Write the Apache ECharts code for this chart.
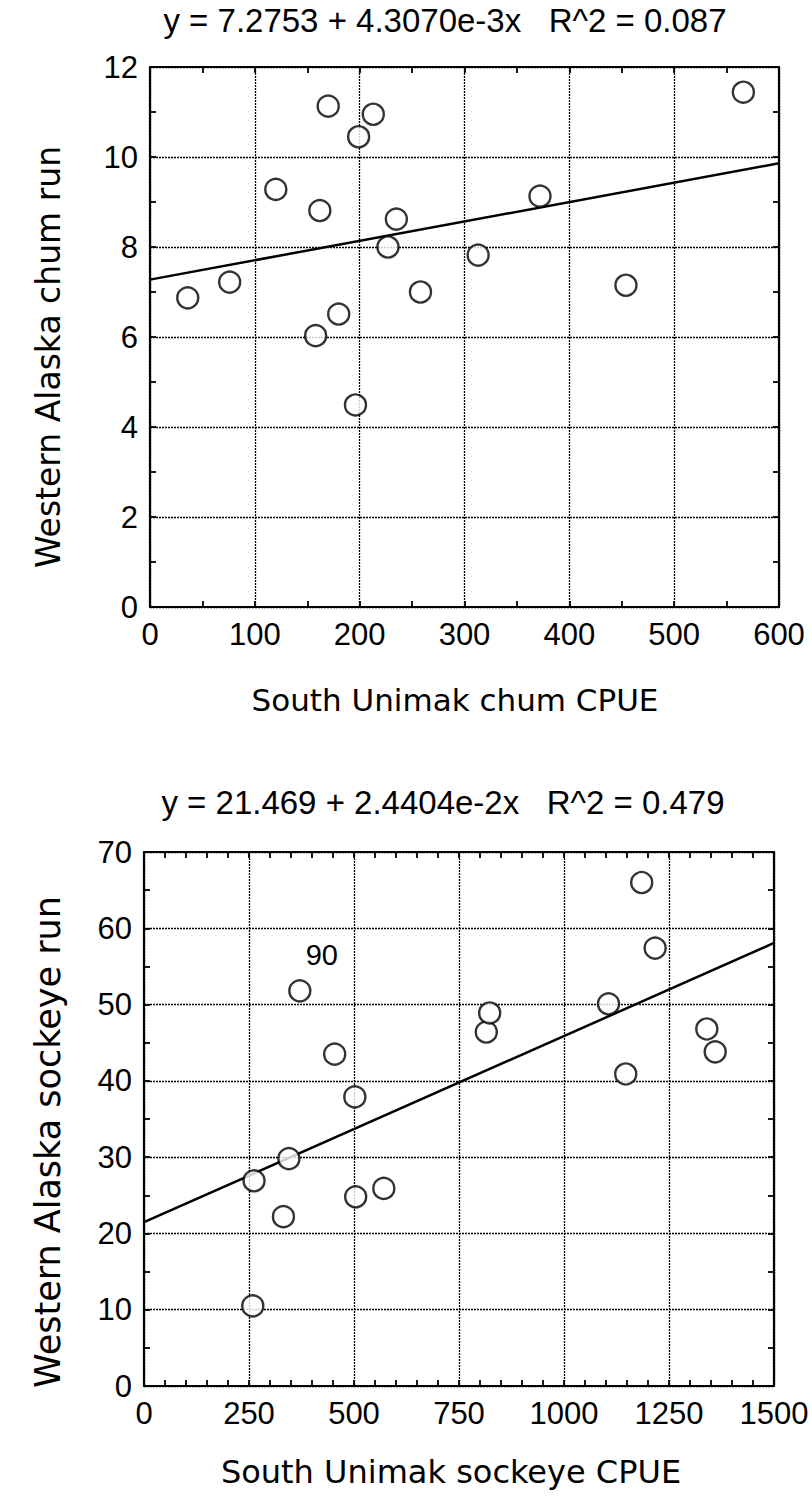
<!DOCTYPE html>
<html>
<head>
<meta charset="utf-8">
<title>South Unimak CPUE vs Western Alaska runs</title>
<script src="https://cdn.jsdelivr.net/npm/echarts@6/dist/echarts.min.js"></script>
<style>
  html, body { margin: 0; padding: 0; background: #fff; }
  #chart { width: 812px; height: 1505px; }
</style>
</head>
<body>
<div id="chart"></div>
<script>
// South Unimak chum CPUE vs Western Alaska chum run
const chumCPUE = [36, 76, 120, 158, 162, 170, 180, 196, 199, 213, 227, 235, 258, 313, 372, 454, 566];
const chumRun  = [6.87, 7.22, 9.28, 6.03, 8.81, 11.13, 6.51, 4.49, 10.45, 10.95, 8.0, 8.62, 7.0, 7.82, 9.13, 7.15, 11.44];
const chumFit  = [7.2753, 4.3070e-3];   // intercept, slope
const chumR2   = '0.087';

// South Unimak sockeye CPUE vs Western Alaska sockeye run
const sockeyeCPUE = [259, 262, 332, 345, 371, 454, 502, 504, 571, 815, 823, 1106, 1147, 1185, 1217, 1340, 1360];
const sockeyeRun  = [10.5, 26.9, 22.2, 29.8, 51.8, 43.5, 37.9, 24.8, 25.9, 46.4, 48.9, 50.1, 40.9, 66.0, 57.4, 46.8, 43.8];
const sockeyeTags = ['', '', '', '', '90', '', '', '', '', '', '', '', '', '', '', '', ''];
const sockeyeFit  = [21.469, 2.4404e-2];
const sockeyeR2   = '0.479';

// axis ranges and tick steps
const chumXRange = [0, 600, 100];
const chumYRange = [0, 12, 2];
const sockeyeXRange = [0, 1500, 250];
const sockeyeYRange = [0, 70, 10];

const chumTitle = 'y = 7.2753 + 4.3070e-3x\u00a0\u00a0\u00a0R^2 = ' + chumR2;
const sockeyeTitle = 'y = 21.469 + 2.4404e-2x\u00a0\u00a0\u00a0R^2 = ' + sockeyeR2;

const tickFont = 'Liberation Sans, Arial, sans-serif';
const nameFont = 'DejaVu Sans, sans-serif';

function pairs(xs, ys) { return xs.map((x, i) => [x, ys[i]]); }
function fitLine(fit, xMax) { return [[0, fit[0]], [xMax, fit[0] + fit[1] * xMax]]; }

function valueAxis(range, gridIndex, position, showLabels, minorSplit) {
  return {
    type: 'value', gridIndex, position,
    min: range[0], max: range[1], interval: range[2],
    axisLine: { show: true, onZero: false, lineStyle: { color: '#000', width: 2.2 } },
    axisTick: { show: true, inside: true, length: 6, lineStyle: { color: '#000', width: 1.8 } },
    minorTick: { show: true, splitNumber: minorSplit, length: 6, lineStyle: { color: '#000', width: 1.8 } },
    axisLabel: {
      show: showLabels, color: '#000', fontFamily: tickFont, fontSize: 31, margin: 12,
      formatter: v => String(v)
    },
    splitLine: {
      show: showLabels,
      lineStyle: { color: '#000', width: 1.3, type: [2, 1] }
    }
  };
}

const circleStyle = { color: '#fff', borderColor: '#000', borderWidth: 2.4 };

const chart = echarts.init(document.getElementById('chart'), null, { renderer: 'svg' });

chart.setOption({
  animation: false,
  backgroundColor: '#fff',
  grid: [
    { left: 150, right: 33, top: 67, height: 540 },
    { left: 144, right: 38, top: 852, height: 534 }
  ],
  xAxis: [
    valueAxis(chumXRange, 0, 'bottom', true, 2),
    valueAxis(chumXRange, 0, 'top', false, 2),
    valueAxis(sockeyeXRange, 1, 'bottom', true, 5),
    valueAxis(sockeyeXRange, 1, 'top', false, 5)
  ],
  yAxis: [
    valueAxis(chumYRange, 0, 'left', true, 2),
    valueAxis(chumYRange, 0, 'right', false, 2),
    valueAxis(sockeyeYRange, 1, 'left', true, 2),
    valueAxis(sockeyeYRange, 1, 'right', false, 2)
  ],
  graphic: [
    { type: 'text', x: 445, y: 20, style: { text: chumTitle, font: '33px ' + tickFont, fill: '#000', align: 'center', verticalAlign: 'middle' } },
    { type: 'text', x: 443, y: 802, style: { text: sockeyeTitle, font: '33px ' + tickFont, fill: '#000', align: 'center', verticalAlign: 'middle' } },
    { type: 'text', x: 455, y: 700, style: { text: 'South Unimak chum CPUE', font: '31px ' + nameFont, fill: '#000', align: 'center', verticalAlign: 'middle' } },
    { type: 'text', x: 451, y: 1472, style: { text: 'South Unimak sockeye CPUE', font: '32px ' + nameFont, fill: '#000', align: 'center', verticalAlign: 'middle' } },
    { type: 'text', x: 48, y: 357, rotation: Math.PI / 2, style: { text: 'Western Alaska chum run', font: '33px ' + nameFont, fill: '#000', align: 'center', verticalAlign: 'middle' } },
    { type: 'text', x: 48, y: 1142, rotation: Math.PI / 2, style: { text: 'Western Alaska sockeye run', font: '35px ' + nameFont, fill: '#000', align: 'center', verticalAlign: 'middle' } }
  ],
  series: [
    {
      type: 'line', xAxisIndex: 0, yAxisIndex: 0, silent: true, showSymbol: false, z: 2,
      data: fitLine(chumFit, chumXRange[1]),
      lineStyle: { color: '#000', width: 2.5 }
    },
    {
      type: 'scatter', xAxisIndex: 0, yAxisIndex: 0, z: 3,
      symbol: 'circle', symbolSize: 21,
      data: pairs(chumCPUE, chumRun),
      itemStyle: circleStyle
    },
    {
      type: 'line', xAxisIndex: 2, yAxisIndex: 2, silent: true, showSymbol: false, z: 2,
      data: fitLine(sockeyeFit, sockeyeXRange[1]),
      lineStyle: { color: '#000', width: 2.5 }
    },
    {
      type: 'scatter', xAxisIndex: 2, yAxisIndex: 2, z: 3,
      symbol: 'circle', symbolSize: 21,
      data: pairs(sockeyeCPUE, sockeyeRun),
      itemStyle: circleStyle,
      label: {
        show: true, position: 'inside', offset: [22, -36],
        color: '#000', opacity: 1, textBorderWidth: 0,
        fontFamily: tickFont, fontSize: 29,
        formatter: p => sockeyeTags[p.dataIndex]
      }
    }
  ]
});
</script>
</body>
</html>
